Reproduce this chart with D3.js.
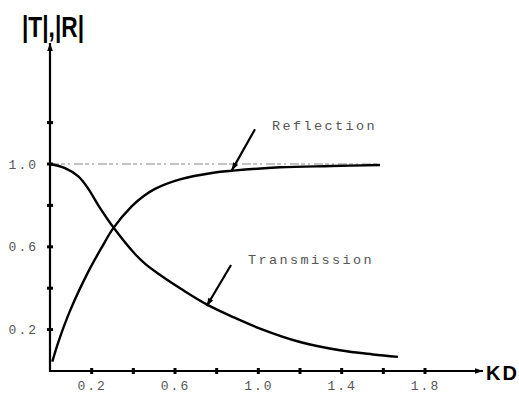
<!DOCTYPE html>
<html>
<head>
<meta charset="utf-8">
<script src="https://cdn.jsdelivr.net/npm/d3@7"></script>
<style>
  html, body { margin: 0; padding: 0; background: #fff; }
  svg { display: block; }
</style>
</head>
<body>
<svg id="chart" width="519" height="395"></svg>
<script>
// Transmission |T| versus KD
const transKD = [0, 0.072, 0.136, 0.184, 0.232, 0.304, 0.408, 0.46, 0.52, 0.64, 0.752, 0.88, 1.008, 1.2, 1.392, 1.55, 1.67];
const transVal = [1.0, 0.98, 0.94, 0.88, 0.80, 0.694, 0.565, 0.515, 0.47, 0.39, 0.322, 0.26, 0.205, 0.14, 0.10, 0.08, 0.068];

// Reflection |R| versus KD
const reflKD = [0.011, 0.04, 0.1, 0.184, 0.25, 0.304, 0.392, 0.45, 0.504, 0.624, 0.784, 0.88, 1.104, 1.35, 1.584];
const reflVal = [0.045, 0.14, 0.30, 0.48, 0.60, 0.69, 0.795, 0.845, 0.88, 0.926, 0.958, 0.968, 0.984, 0.99, 0.995];

// Axis ticks and labels
const xTicks = [0.2, 0.4, 0.6, 0.8, 1.0, 1.2, 1.4, 1.6, 1.8];
const xTickLabels = ["0.2", "0.6", "1.0", "1.4", "1.8"];
const yTicks = [0.2, 0.4, 0.6, 0.8, 1.0, 1.2];
const yTickLabels = ["0.2", "0.6", "1.0"];

// Reference level |R| = 1
const unityLevel = [1.0];
const unityEndKD = 1.584;

// Curve annotations: pointer start (kd, v), pointer tip (kd, v), label anchor (kd, v)
const notes = [
  { text: "Reflection",   from: [0.984, 1.168], to: [0.872, 0.968], at: [1.065, 1.165] },
  { text: "Transmission", from: [0.869, 0.512], to: [0.752, 0.314], at: [0.95, 0.515] }
];

const svg = d3.select("#chart");

const x = d3.scaleLinear().domain([0, 1.8]).range([50, 425]);
const y = d3.scaleLinear().domain([0, 1]).range([371, 164]);

const ink = "#000";
const soft = "#555";
const mono = "'Liberation Mono', 'DejaVu Sans Mono', monospace";

// arrowheads
const defs = svg.append("defs");
defs.append("marker")
  .attr("id", "head")
  .attr("viewBox", "0 0 10 10")
  .attr("refX", 10).attr("refY", 5)
  .attr("markerUnits", "userSpaceOnUse")
  .attr("markerWidth", 12).attr("markerHeight", 8)
  .attr("orient", "auto")
  .append("path").attr("d", "M0,1.5 L10,5 L0,8.5 Z").attr("fill", ink);

// dotted level line at 1.0
svg.selectAll(".unity").data(unityLevel).join("line")
  .attr("class", "unity")
  .attr("x1", x(0)).attr("x2", x(unityEndKD))
  .attr("y1", d => y(d)).attr("y2", d => y(d))
  .attr("stroke", "#888").attr("stroke-width", 1.2)
  .attr("stroke-dasharray", "9,2,4,3,2,4");

// axes lines with arrows
svg.append("line")
  .attr("x1", x(0)).attr("y1", y(0)).attr("x2", 483).attr("y2", y(0))
  .attr("stroke", ink).attr("stroke-width", 2.2)
  .attr("marker-end", "url(#head)");
svg.append("line")
  .attr("x1", x(0)).attr("y1", y(0) + 1).attr("x2", x(0)).attr("y2", 43)
  .attr("stroke", ink).attr("stroke-width", 2.2)
  .attr("marker-end", "url(#head)");

// tick marks
svg.selectAll(".xt").data(xTicks).join("line")
  .attr("class", "xt")
  .attr("x1", d => x(d)).attr("x2", d => x(d))
  .attr("y1", y(0) - 3).attr("y2", y(0) + 3)
  .attr("stroke", ink).attr("stroke-width", 3);
svg.selectAll(".yt").data(yTicks).join("line")
  .attr("class", "yt")
  .attr("y1", d => y(d)).attr("y2", d => y(d))
  .attr("x1", x(0) - 3).attr("x2", x(0) + 3)
  .attr("stroke", ink).attr("stroke-width", 3);

// tick labels through d3 axes
const xAxis = d3.axisBottom(x)
  .tickValues(xTickLabels.map(Number))
  .tickFormat((d, i) => xTickLabels[i])
  .tickSize(0).tickPadding(10);
const gx = svg.append("g").attr("transform", `translate(0,${y(0)})`).call(xAxis);
gx.select(".domain").remove();
gx.selectAll("text")
  .attr("font-family", mono).attr("font-size", 13)
  .attr("letter-spacing", 2).attr("fill", soft);

const yAxis = d3.axisLeft(y)
  .tickValues(yTickLabels.map(Number))
  .tickFormat((d, i) => yTickLabels[i])
  .tickSize(0).tickPadding(12);
const gy = svg.append("g").attr("transform", `translate(${x(0)},0)`).call(yAxis);
gy.select(".domain").remove();
gy.selectAll("text")
  .attr("font-family", mono).attr("font-size", 13)
  .attr("letter-spacing", 2).attr("fill", soft);

// curves
const line = d3.line()
  .x(d => x(d[0])).y(d => y(d[1]))
  .curve(d3.curveCatmullRom.alpha(0.5));

svg.append("path")
  .datum(transKD.map((k, i) => [k, transVal[i]]))
  .attr("d", line)
  .attr("fill", "none").attr("stroke", ink).attr("stroke-width", 2.4);

svg.append("path")
  .datum(reflKD.map((k, i) => [k, reflVal[i]]))
  .attr("d", line)
  .attr("fill", "none").attr("stroke", ink).attr("stroke-width", 2.4);

// annotation pointers and labels
svg.selectAll(".ptr").data(notes).join("line")
  .attr("class", "ptr")
  .attr("x1", d => x(d.from[0])).attr("y1", d => y(d.from[1]))
  .attr("x2", d => x(d.to[0])).attr("y2", d => y(d.to[1]))
  .attr("stroke", ink).attr("stroke-width", 2.2)
  .attr("marker-end", "url(#head)");

svg.selectAll(".note").data(notes).join("text")
  .attr("class", "note")
  .attr("x", d => x(d.at[0])).attr("y", d => y(d.at[1]))
  .attr("font-family", mono).attr("font-size", 13.5)
  .attr("letter-spacing", 2.4).attr("fill", soft)
  .text(d => d.text);

// axis titles
svg.append("text")
  .attr("x", 22).attr("y", 37)
  .attr("font-family", "'Liberation Sans', Arial, sans-serif")
  .attr("font-weight", "bold").attr("font-size", 30)
  .attr("textLength", 62).attr("lengthAdjust", "spacingAndGlyphs")
  .attr("fill", ink)
  .text("|T|,|R|");

svg.append("text")
  .attr("x", 486).attr("y", 380)
  .attr("font-family", "'Liberation Sans', Arial, sans-serif")
  .attr("font-weight", "bold").attr("font-size", 20)
  .attr("letter-spacing", 2)
  .attr("fill", ink)
  .text("KD");
</script>
</body>
</html>
